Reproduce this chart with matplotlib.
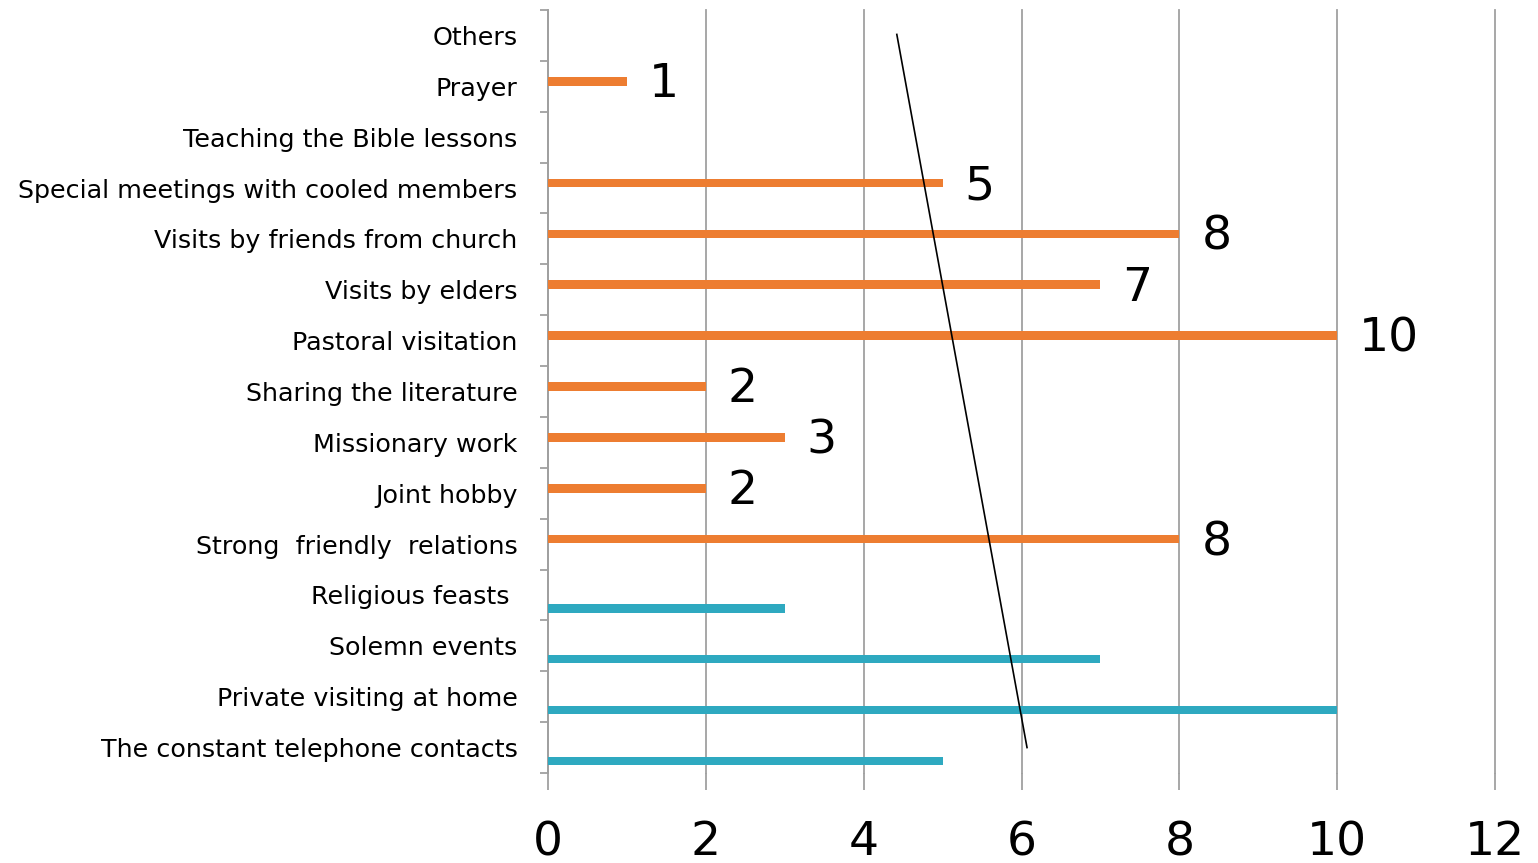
import numpy as np
import matplotlib
matplotlib.use('Agg')
import matplotlib.pyplot as plt

# categories top to bottom
categories = ['Others', 'Prayer', 'Teaching the Bible lessons',
              'Special meetings with cooled members', 'Visits by friends from church',
              'Visits by elders', 'Pastoral visitation', 'Sharing the literature',
              'Missionary work', 'Joint hobby', 'Strong  friendly  relations',
              'Religious feasts ', 'Solemn events', 'Private visiting at home',
              'The constant telephone contacts']
orange_vals = [0, 1, 0, 5, 8, 7, 10, 2, 3, 2, 8, 0, 0, 0, 0]
teal_vals = [0, 0, 0, 0, 0, 0, 0, 0, 0, 0, 0, 3, 7, 10, 5]
xticks = [0, 2, 4, 6, 8, 10, 12]

orange = '#ED7D31'
teal = '#2EA9C0'

fig = plt.figure(figsize=(15.38, 8.63), dpi=100)
ax = fig.add_axes([548/1538, 1 - 773/863, (1495-548)/1538, (773-10)/863])

y = np.arange(len(categories))
ax.barh(y - 0.098, orange_vals, height=0.17, color=orange, zorder=3)
ax.barh(y + 0.265, teal_vals, height=0.16, color=teal, zorder=3)

for yi, v in zip(y, orange_vals):
    if v > 0:
        ax.text(v + 0.28, yi - 0.03, str(v), fontsize=34, va='center', ha='left', zorder=4)

# hand-drawn line across the bars
ax.plot([4.42, 6.07], [-0.02, 14.0], color='black', lw=1.2, zorder=5)

ax.set_xlim(0, 12)
ax.set_ylim(14.5, -0.5)
ax.set_xticks(xticks)
ax.set_xticklabels([str(t) for t in xticks], fontsize=34)
ax.set_yticks(np.arange(-0.5, len(categories), 1))
ax.set_yticklabels([])
ax.set_yticks(y, minor=True)
ax.set_yticklabels(categories, minor=True, fontsize=18.3)
ax.tick_params(axis='y', which='major', length=6, color='#A0A0A0', width=1.3)
ax.tick_params(axis='y', which='minor', length=0, pad=22)
ax.tick_params(axis='x', length=12, color='#A0A0A0', width=1.3, pad=22)

ax.grid(axis='x', color='#A0A0A0', lw=1.3, zorder=0)
for line in ax.get_xgridlines():
    line.set_clip_on(False)
for s in ['top', 'right', 'bottom']:
    ax.spines[s].set_visible(False)
ax.spines['left'].set_color('#A0A0A0')
ax.spines['left'].set_linewidth(1.3)

fig.savefig('out.png', dpi=100)
